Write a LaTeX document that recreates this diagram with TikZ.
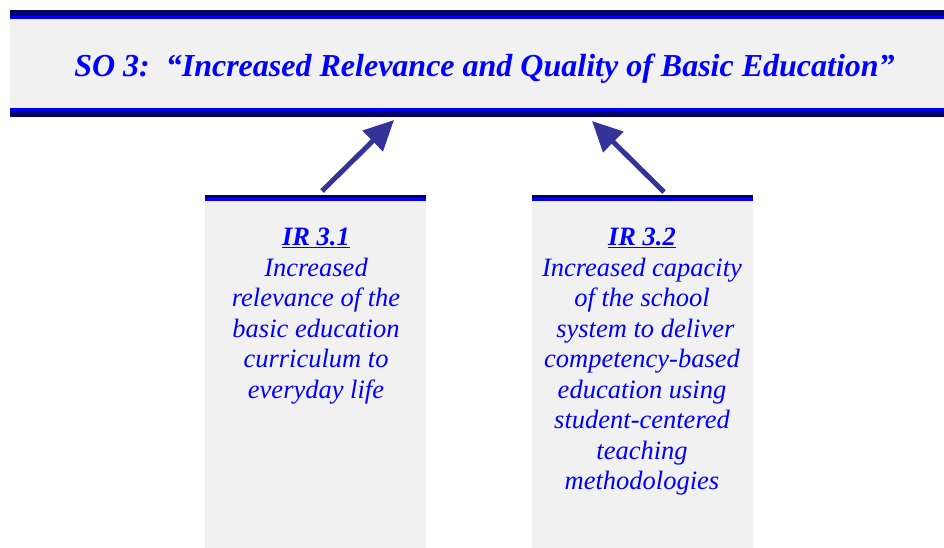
\documentclass[tikz,border=0pt]{standalone}
\usepackage{fontspec}
\setmainfont{Liberation Serif}
\usetikzlibrary{arrows.meta}
\definecolor{navybar}{HTML}{000066}
\definecolor{bluebar}{HTML}{0000FF}
\definecolor{panelgray}{HTML}{F1F1F1}
\definecolor{arrowblue}{HTML}{333399}
\definecolor{textblue}{HTML}{0000FF}
\begin{document}
\begin{tikzpicture}[x=1pt,y=-1pt,
	panel/.style={fill=panelgray},
	topbar/.style={fill=navybar},
	thinbar/.style={fill=bluebar},
	title/.style={text=textblue,font=\fontsize{32}{38}\selectfont\bfseries\itshape,inner sep=0pt,anchor=base},
	irtext/.style={text=textblue,font=\fontsize{26.5}{30.5}\selectfont\itshape,align=center,inner sep=0pt,anchor=north},
	uparrow/.style={arrowblue,line width=5pt,-{Triangle[length=30pt,width=28pt]}}]
	\useasboundingbox (0,0) rectangle (944,548);
	% bandeau du haut
	\fill[panel] (10,10) rectangle (944,117);
	\fill[topbar] (10,10) rectangle (944,16);
	\fill[thinbar] (10,16) rectangle (944,19);
	\fill[thinbar] (10,108) rectangle (944,111);
	\fill[topbar] (10,111) rectangle (944,117);
	\node[title] (so3) at (484.5,77) {SO 3:\ \ ``Increased Relevance and Quality of Basic Education''};
	% les deux cadres IR
	\fill[panel] (205,195) rectangle (426,548);
	\fill[topbar] (205,195) rectangle (426,198);
	\fill[thinbar] (205,198) rectangle (426,201);
	\fill[panel] (532,195) rectangle (753,548);
	\fill[topbar] (532,195) rectangle (753,198);
	\fill[thinbar] (532,198) rectangle (753,201);
	\node[irtext] (ir31) at (316,228) {\textbf{\underline{IR 3.1}}\\Increased\\relevance of the\\basic education\\curriculum to\\everyday life};
	\node[irtext] (ir32) at (642,228) {\textbf{\underline{IR 3.2}}\\Increased capacity\\of the school\\\ system to deliver\\competency-based\\education using\\student-centered\\teaching\\methodologies};
	% fleches
	\coordinate (ir31top) at (322,191);
	\coordinate (so3left) at (394,120);
	\coordinate (ir32top) at (664,192);
	\coordinate (so3right) at (592,121);
	\draw[uparrow] (ir31top) -- (so3left);
	\draw[uparrow] (ir32top) -- (so3right);
\end{tikzpicture}
\end{document}
